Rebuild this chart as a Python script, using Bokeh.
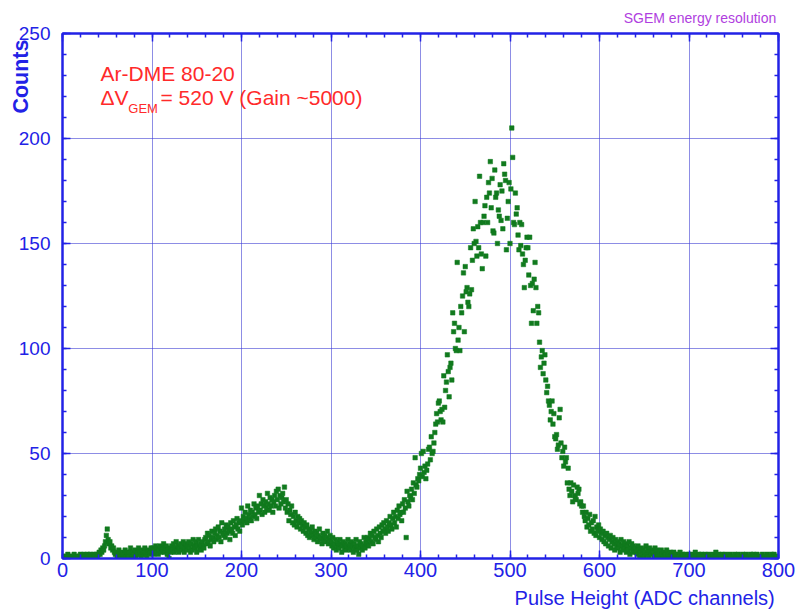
from math import pi
from bokeh.plotting import figure
from bokeh.models import Range1d, LinearAxis, Label, SingleIntervalTicker, ColumnDataSource, Grid
from bokeh.embed import file_html
from bokeh.resources import INLINE

# ---- data: counts per ADC channel ----
counts = [
    0,1,0,1,1,0,2,1,0,1,1,0,1,2,0,1,1,0,1,1,
    2,1,0,1,2,1,1,0,2,1,1,2,1,0,1,2,1,1,2,1,
    2,3,2,4,3,5,4,6,8,11,14,9,7,8,5,6,4,5,3,2,
    3,1,2,4,2,1,3,2,0,2,4,1,3,2,1,3,5,2,1,3,
    2,4,1,3,2,5,2,3,1,4,2,3,5,2,1,3,4,2,3,5,
    3,5,2,4,6,3,5,2,4,6,3,5,4,7,3,5,6,2,4,0,
    5,3,6,4,7,3,5,8,4,6,3,5,7,4,6,8,3,5,7,4,
    6,8,5,3,7,4,9,6,5,8,3,6,9,5,7,4,8,6,5,9,
    10,7,12,8,11,6,9,13,10,8,12,14,9,11,15,10,13,8,17,12,
    11,14,10,16,12,15,13,9,17,14,12,18,15,11,16,19,14,17,13,18,
    24,16,20,18,22,19,17,25,21,19,23,18,22,20,26,21,24,19,25,22,
    30,23,26,21,28,25,22,27,24,31,26,23,29,25,28,22,27,30,25,32,
    28,33,24,30,26,29,31,27,34,24,28,22,26,18,23,21,25,17,20,16,
    22,18,15,20,17,19,14,18,16,13,17,15,12,16,11,14,10,13,12,15,
    11,9,13,10,12,8,11,14,9,10,7,12,9,11,8,10,13,7,9,11,
    8,6,10,5,7,9,4,8,6,5,9,7,3,6,8,5,7,4,6,9,
    5,7,4,8,6,3,7,5,9,4,6,2,8,5,7,4,6,10,5,8,
    7,10,6,9,12,8,11,7,13,10,9,14,11,8,15,12,10,16,13,17,
    14,12,18,15,13,17,20,16,14,19,22,17,20,15,23,19,25,21,22,18,
    26,22,28,24,10,32,27,25,30,29,33,28,36,31,48,35,34,38,37,40,
    43,50,39,51,41,44,38,42,45,52,53,47,58,50,51,55,60,64,69,65,
    74,75,70,66,71,65,87,72,80,84,97,89,77,91,93,85,117,108,112,100,
    99,141,104,110,99,120,117,125,136,108,139,127,129,122,120,126,148,128,142,157,
    150,170,151,144,158,148,182,160,145,138,160,163,168,144,172,160,179,174,189,167,
    181,156,155,185,172,174,150,166,163,178,161,175,157,188,183,180,147,162,170,179,
    150,176,205,191,160,159,174,164,167,154,147,160,149,159,145,140,129,142,148,153,
    148,135,153,130,112,131,118,133,141,129,112,120,117,103,91,96,99,88,93,97,
    85,79,82,75,73,66,70,75,64,69,58,57,59,52,54,67,71,55,48,51,
    44,53,46,48,36,43,33,30,36,32,27,35,30,29,28,34,31,33,26,27,
    25,22,25,20,18,22,15,19,16,21,13,17,14,18,12,20,11,15,13,16,
    10,14,12,9,13,8,11,7,12,10,6,9,11,5,8,10,7,4,9,6,
    8,5,7,3,9,6,4,8,5,7,3,6,4,8,2,5,7,3,6,4,
    5,3,2,6,4,1,3,5,2,4,1,3,6,2,4,1,5,3,2,4,
    3,1,5,2,4,1,2,3,1,4,2,0,3,1,2,4,1,2,0,3,
    1,2,0,3,1,2,1,0,2,1,3,0,1,2,1,0,2,1,0,1,
    2,1,0,1,2,0,1,3,1,0,1,2,1,0,2,1,0,1,2,1,
    0,1,2,1,0,1,1,2,0,1,3,1,0,2,1,1,0,2,1,0,
    1,2,1,0,1,0,2,1,1,0,1,2,0,1,1,2,0,1,0,1,
    2,1,0,1,2,1,0,1,1,2,0,1,2,1,0,1,2,1,1,0,
    1,0,2,1,1,0,1,2,1,0,1,1,2,0,1,2,1,0,1,1,
]
channels = list(range(len(counts)))

x_ticks_interval = 100
y_ticks_interval = 50

title_text = "SGEM energy resolution"
x_label = "Pulse Height (ADC  channels)"
y_label = "Counts"
note_line1 = "Ar-DME 80-20"
note_dv = "\u0394V"
note_sub = "GEM"
note_rest = "= 520 V (Gain ~5000)"

BLUE = "#2222e6"
GREEN = "#117a1e"
RED = "#ff2a2a"
PURPLE = "#b03ee0"
FONT = "Liberation Sans"

p = figure(width=802, height=612, output_backend="svg", toolbar_location=None,
           x_range=Range1d(0, 800), y_range=Range1d(0, 250),
           min_border_left=62, min_border_right=24, min_border_top=33, min_border_bottom=54,
           x_axis_location=None, y_axis_location=None)
p.background_fill_color = "white"
p.border_fill_color = "white"
p.outline_line_color = BLUE
p.outline_line_width = 2
p.title.visible = False


def make_axis(interval, show_labels, fs):
    ax = LinearAxis(ticker=SingleIntervalTicker(interval=interval, num_minor_ticks=5))
    ax.axis_line_color = BLUE
    ax.axis_line_width = 2
    ax.major_tick_line_color = BLUE
    ax.minor_tick_line_color = BLUE
    ax.major_tick_line_width = 1.5
    ax.minor_tick_line_width = 1.5
    ax.major_tick_in = 8
    ax.major_tick_out = 0
    ax.minor_tick_in = 4
    ax.minor_tick_out = 0
    if show_labels:
        ax.major_label_text_color = BLUE
        ax.major_label_text_font = FONT
        ax.major_label_text_font_size = fs
    else:
        ax.major_label_text_font_size = "0px"
        ax.major_label_text_alpha = 0
        ax.major_label_standoff = 0
    return ax


xb = make_axis(x_ticks_interval, True, "20px")
xb.major_label_standoff = 4
yl = make_axis(y_ticks_interval, True, "19px")
yl.major_label_standoff = 12

p.add_layout(xb, "below")
p.add_layout(yl, "left")
p.add_layout(make_axis(x_ticks_interval, False, "0px"), "above")
p.add_layout(make_axis(y_ticks_interval, False, "0px"), "right")

p.add_layout(Grid(dimension=0, ticker=xb.ticker, grid_line_color=BLUE, grid_line_dash="1 1",
                  grid_line_width=1, grid_line_alpha=0.9))
p.add_layout(Grid(dimension=1, ticker=yl.ticker, grid_line_color=BLUE, grid_line_dash="1 1",
                  grid_line_width=1, grid_line_alpha=0.9))

src = ColumnDataSource(dict(x=channels, y=counts))
p.scatter("x", "y", source=src, marker="square", size=4.5, fill_color=GREEN, line_color=GREEN,
          line_width=0.5)


def lab(x, y, text, size, color, align="left", baseline="alphabetic", angle=0.0,
        style="normal", place=None):
    label = Label(x=x, y=y, text=text, text_font=FONT, text_font_size=size, text_color=color,
                  text_align=align, text_baseline=baseline, angle=angle, text_font_style=style)
    if place is None:
        p.add_layout(label)
    else:
        p.add_layout(label, place)


lab(42.5, 231, note_line1, "21px", RED)
lab(42.5, 219.5, note_dv, "21px", RED)
lab(73.5, 214.3, note_sub, "13px", RED)
lab(109.5, 219.5, note_rest, "21px", RED)

# texts outside the frame live in side panels (not clipped), positioned in data units;
# each panel is chosen so that the label's footprint fits in that border
lab(-46, 229.5, y_label, "21.5px", BLUE, align="center", baseline="middle", angle=pi / 2,
    style="bold", place="right")
lab(802, -18.6, x_label, "20px", BLUE, align="right", baseline="middle", place="below")
lab(797.5, 257.6, title_text, "14px", PURPLE, align="right", baseline="middle", place="above")

open("out.html", "w").write(file_html(p, INLINE))
